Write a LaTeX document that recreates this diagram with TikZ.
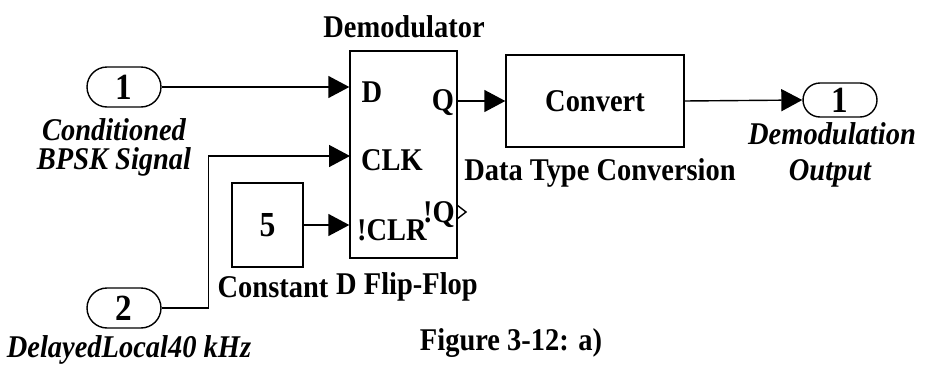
\documentclass[tikz,border=0pt]{standalone}
\usepackage{fontspec}
\setmainfont{Liberation Serif}[FakeStretch=0.9]
\usetikzlibrary{positioning,arrows.meta,shapes.misc,calc}
\tikzset{
>={Triangle[length=0.42cm,width=0.44cm]},
  blk/.style={
    rectangle,
    draw=black, thick,
    inner sep=0pt},
  port/.style={
    rounded rectangle,
    draw=black, thick,
    minimum width=1.48cm,
    minimum height=0.8cm,
    inner sep=0pt,
    font=\bfseries\fontsize{21}{21}\selectfont},
  wire/.style={draw, thick, ->},
  lbl/.style={font=\bfseries\fontsize{18}{20}\selectfont, inner sep=0pt},
  ilbl/.style={font=\bfseries\itshape\fontsize{18}{16.5}\selectfont, inner sep=0pt, align=center},
}

\begin{document}
\begin{tikzpicture}[x=0.02cm, y=-0.02cm]
    \useasboundingbox (0,0) rectangle (929,365);

    % blocks
    \node[blk, minimum width=2.14cm, minimum height=4.14cm] (dff) at (403.5,154.5) {};
    \node[blk, minimum width=3.56cm, minimum height=1.84cm] (conv) at (595,101) {};
    \node[blk, minimum width=1.42cm, minimum height=1.68cm] (const) at (267.5,225) {};

    % ports
    \node[port] (inOne) at (124,87) {1};
    \node[port] (inTwo) at (124,308) {2};
    \node[port, minimum height=0.68cm] (outOne) at (840,100) {1};

    % block texts
    \node[lbl] (convTxt) at (conv) {Convert};
    \node[lbl, font=\bfseries\fontsize{20}{20}\selectfont] (constTxt) at (const) {5};
    \node[lbl] (pinDTxt) at (372,92) {D};
    \node[lbl] (pinQTxt) at (443,103) {Q};
    \node[lbl] (pinClkTxt) at (392,160) {CLK};
    \node[lbl] (pinClrTxt) at (392,230) {!CLR};
    \node[lbl] (pinNQTxt) at (439,215) {!Q};

    % block names
    \node[lbl] (dffTitle) at (404,27) {Demodulator};
    \node[lbl] (dffName) at (407,287) {D Flip-Flop};
    \node[lbl] (convName) at (600,173) {Data Type Conversion};
    \node[lbl] (constName) at (273,287) {Constant};
    \node[lbl] (figName) at (511,343) {Figure 3-12: a)};

    % port names
    \node[ilbl] (inOneName) at (114,147) {Conditioned\\BPSK Signal};
    \node[ilbl] (inTwoName) at (129,350) {DelayedLocal40 kHz};
    \node[ilbl] (outOneName) at (832,134) {Demodulation};
    \node[ilbl] (outOneName2) at (830,173) {Output};

    % pins of the flip-flop
    \coordinate (pinClk) at (350,156);
    \draw[thick] (457,205) -- (466,212) -- (457,219);

    % wires
    \draw[wire] (inOne.east) -- (inOne.east -| dff.west);
    \draw[wire] (inTwo.east) -| ++(47,0) |- (pinClk);
    \draw[wire] (const.east) -- (const.east -| dff.west);
    \draw[wire] (conv.west -| dff.east) -- (conv.west);
    \draw[wire] (conv.east) -- (outOne.west);
\end{tikzpicture}
\end{document}
